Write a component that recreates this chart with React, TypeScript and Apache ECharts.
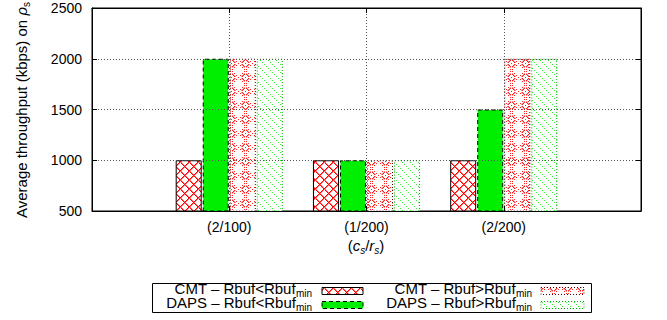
import { useEffect, useRef } from 'react';
import * as echarts from 'echarts';

const categories = ['(2/100)', '(1/200)', '(2/200)'];
const cmtBelow = [1000, 1000, 1000];
const dapsBelow = [2000, 1000, 1500];
const cmtAbove = [2000, 1000, 2000];
const dapsAbove = [2000, 1000, 2000];
const yMin = 500;
const yMax = 2500;
const yStep = 500;
const legendMain = ['CMT – Rbuf<Rbuf', 'DAPS – Rbuf<Rbuf', 'CMT – Rbuf>Rbuf', 'DAPS – Rbuf>Rbuf'];
const legendSub = 'min';

const FONT = "'Liberation Sans', Arial, Helvetica, sans-serif";

type Run = { t: string; size: number; italic?: boolean; shift?: number };

function tile(w: number, h: number, draw: (set: (x: number, y: number, c: string) => void) => void) {
  const c = document.createElement('canvas');
  c.width = w;
  c.height = h;
  const ctx = c.getContext('2d')!;
  ctx.fillStyle = '#ffffff';
  ctx.fillRect(0, 0, w, h);
  const set = (x: number, y: number, col: string) => {
    ctx.fillStyle = col;
    ctx.fillRect(((x % w) + w) % w, ((y % h) + h) % h, 1, 1);
  };
  draw(set);
  return { image: c.toDataURL('image/png'), repeat: 'repeat', imageWidth: w, imageHeight: h } as any;
}

export default function App() {
  const ref = useRef<HTMLDivElement>(null);
  useEffect(() => {
    const el = ref.current!;
    const chart = echarts.init(el, null, { renderer: 'svg' });
    const mctx = document.createElement('canvas').getContext('2d')!;
    const measure = (r: Run) => {
      mctx.font = `${r.italic ? 'italic ' : ''}${r.size}px ${FONT}`;
      return mctx.measureText(r.t).width;
    };
    const layout = (runs: Run[], startX: number, baseY: number) => {
      let x = startX;
      const out: any[] = [];
      runs.forEach((r) => {
        out.push({
          type: 'text',
          x,
          y: baseY + (r.shift || 0) - 0.35 * r.size,
          silent: true,
          style: {
            text: r.t,
            fill: '#000',
            fontSize: r.size,
            fontFamily: FONT,
            fontStyle: r.italic ? 'italic' : 'normal',
            align: 'left',
            verticalAlign: 'middle',
          },
        });
        x += measure(r);
      });
      return out;
    };
    const totalW = (runs: Run[]) => runs.reduce((s, r) => s + measure(r), 0);

    const patCross = tile(9, 9, (set) => {
      for (let i = 0; i < 9; i++) {
        set(i, i, '#ff0000');
        set(i + 1, i, '#ff7070');
        set(8 - i, i, '#ff0000');
        set(9 - i, i, '#ff7070');
      }
    });
    const patRose = tile(14, 14, (set) => {
      for (let x = 0; x < 14; x++) {
        for (let y = 0; y < 14; y++) {
          const dx = x - 7;
          const dy = y - 7;
          const d = Math.abs(dx) + Math.abs(dy);
          const r = Math.sqrt(dx * dx + dy * dy);
          if (d === 7 && x % 2 === 0) set(x, y, '#ff2020');
          if (Math.abs(r - 3.2) < 0.55 && (x + y) % 2 === 0) set(x, y, '#ff2020');
          if (d === 0) set(x, y, '#ff2020');
          if (d === 5 && (x + y) % 2 === 1 && Math.abs(dx) !== 0 && Math.abs(dy) !== 0) set(x, y, '#ff9090');
        }
      }
    });
    const patDiag = tile(8, 8, (set) => {
      for (let i = 0; i < 8; i += 2) set(i, i, '#33ee33');
    });

    const styles = [
      { color: patCross, borderColor: '#000', borderWidth: 1, borderType: 'solid' },
      { color: '#00ee00', borderColor: '#000', borderWidth: 1, borderType: [4, 3] },
      { color: patRose, borderColor: '#500', borderWidth: 1, borderType: [1, 2] },
      { color: patDiag, borderColor: '#00b000', borderWidth: 1, borderType: [1, 2] },
    ];
    const seriesValues = [cmtBelow, dapsBelow, cmtAbove, dapsAbove];

    const series = seriesValues.map((vals, k) => ({
      type: 'bar',
      name: legendMain[k] + legendSub,
      data: categories.map((_, i) => [i, vals[i]]),
      barWidth: 26,
      barGap: '4%',
      itemStyle: styles[k],
      emphasis: { disabled: true },
      silent: true,
    }));

    const graphics: any[] = [];
    // y axis title, rotated
    const yRuns: Run[] = [
      { t: 'Average throughput (kbps) on ', size: 15 },
      { t: 'ρ', size: 15, italic: true },
      { t: 's', size: 10, shift: 3 },
    ];
    const yW = totalW(yRuns);
    graphics.push({
      type: 'group',
      x: 27,
      y: 110,
      rotation: Math.PI / 2,
      children: layout(yRuns, -yW / 2, 0),
    });
    // x axis title
    const xRuns: Run[] = [
      { t: '(', size: 15 },
      { t: 'c', size: 15, italic: true },
      { t: 's', size: 10, italic: true, shift: 3 },
      { t: '/', size: 15 },
      { t: 'r', size: 15, italic: true },
      { t: 's', size: 10, italic: true, shift: 3 },
      { t: ')', size: 15 },
    ];
    const xW = totalW(xRuns);
    graphics.push(...layout(xRuns, 366 - xW / 2, 251));

    // legend box
    graphics.push({
      type: 'rect',
      silent: true,
      shape: { x: 152.5, y: 283.5, width: 439, height: 29 },
      style: { fill: 'none', stroke: '#000', lineWidth: 1 },
    });
    const cols = [
      { right: 312, sx: 322, sw: 41 },
      { right: 532, sx: 541, sw: 43 },
    ];
    const rows = [
      { base: 294, sy: 287.5 },
      { base: 308, sy: 301.5 },
    ];
    legendMain.forEach((label, k) => {
      const col = cols[Math.floor(k / 2)];
      const row = rows[k % 2];
      const runs: Run[] = [
        { t: label, size: 15 },
        { t: legendSub, size: 10, shift: 3 },
      ];
      graphics.push(...layout(runs, col.right - totalW(runs), row.base));
      const st: any = styles[k];
      graphics.push({
        type: 'rect',
        silent: true,
        shape: { x: col.sx, y: row.sy, width: col.sw, height: 7 },
        style: {
          fill: st.color,
          stroke: st.borderColor,
          lineWidth: 1,
          lineDash: Array.isArray(st.borderType) ? st.borderType : null,
        },
      });
    });

    const tick = { show: true, inside: true, length: 5, lineStyle: { color: '#000', width: 1 } };
    const axLine = { show: true, onZero: false, lineStyle: { color: '#000', width: 1 } };
    const grid = { color: '#555', width: 1, type: [1, 2] };

    chart.setOption({
      animation: false,
      backgroundColor: '#fff',
      grid: { left: 92, top: 8, width: 549, height: 203, show: true, borderColor: '#000', borderWidth: 1, backgroundColor: 'transparent' },
      xAxis: [
        {
          type: 'value',
          min: -1,
          max: 3,
          interval: 1,
          z: 10,
          axisLine: axLine,
          axisTick: tick,
          splitLine: { show: true, lineStyle: grid },
          axisLabel: {
            show: true,
            margin: 9,
            fontSize: 14,
            fontFamily: FONT,
            color: '#000',
            formatter: (v: number) => categories[v] ?? '',
          },
        },
        {
          type: 'value',
          position: 'top',
          min: -1,
          max: 3,
          interval: 1,
          z: 10,
          axisLine: axLine,
          axisTick: tick,
          splitLine: { show: false },
          axisLabel: { show: false },
        },
      ],
      yAxis: [
        {
          type: 'value',
          min: yMin,
          max: yMax,
          interval: yStep,
          z: 10,
          axisLine: axLine,
          axisTick: tick,
          splitLine: { show: true, lineStyle: grid },
          axisLabel: { margin: 10, fontSize: 14, fontFamily: FONT, color: '#000', formatter: (v: number) => String(v) },
        },
        {
          type: 'value',
          position: 'right',
          min: yMin,
          max: yMax,
          interval: yStep,
          z: 10,
          axisLine: axLine,
          axisTick: tick,
          splitLine: { show: false },
          axisLabel: { show: false },
        },
      ],
      series,
      graphic: graphics,
    });
    return () => chart.dispose();
  }, []);
  return <div ref={ref} style={{ position: 'fixed', left: 0, top: 0, width: 667, height: 320 }} />;
}
